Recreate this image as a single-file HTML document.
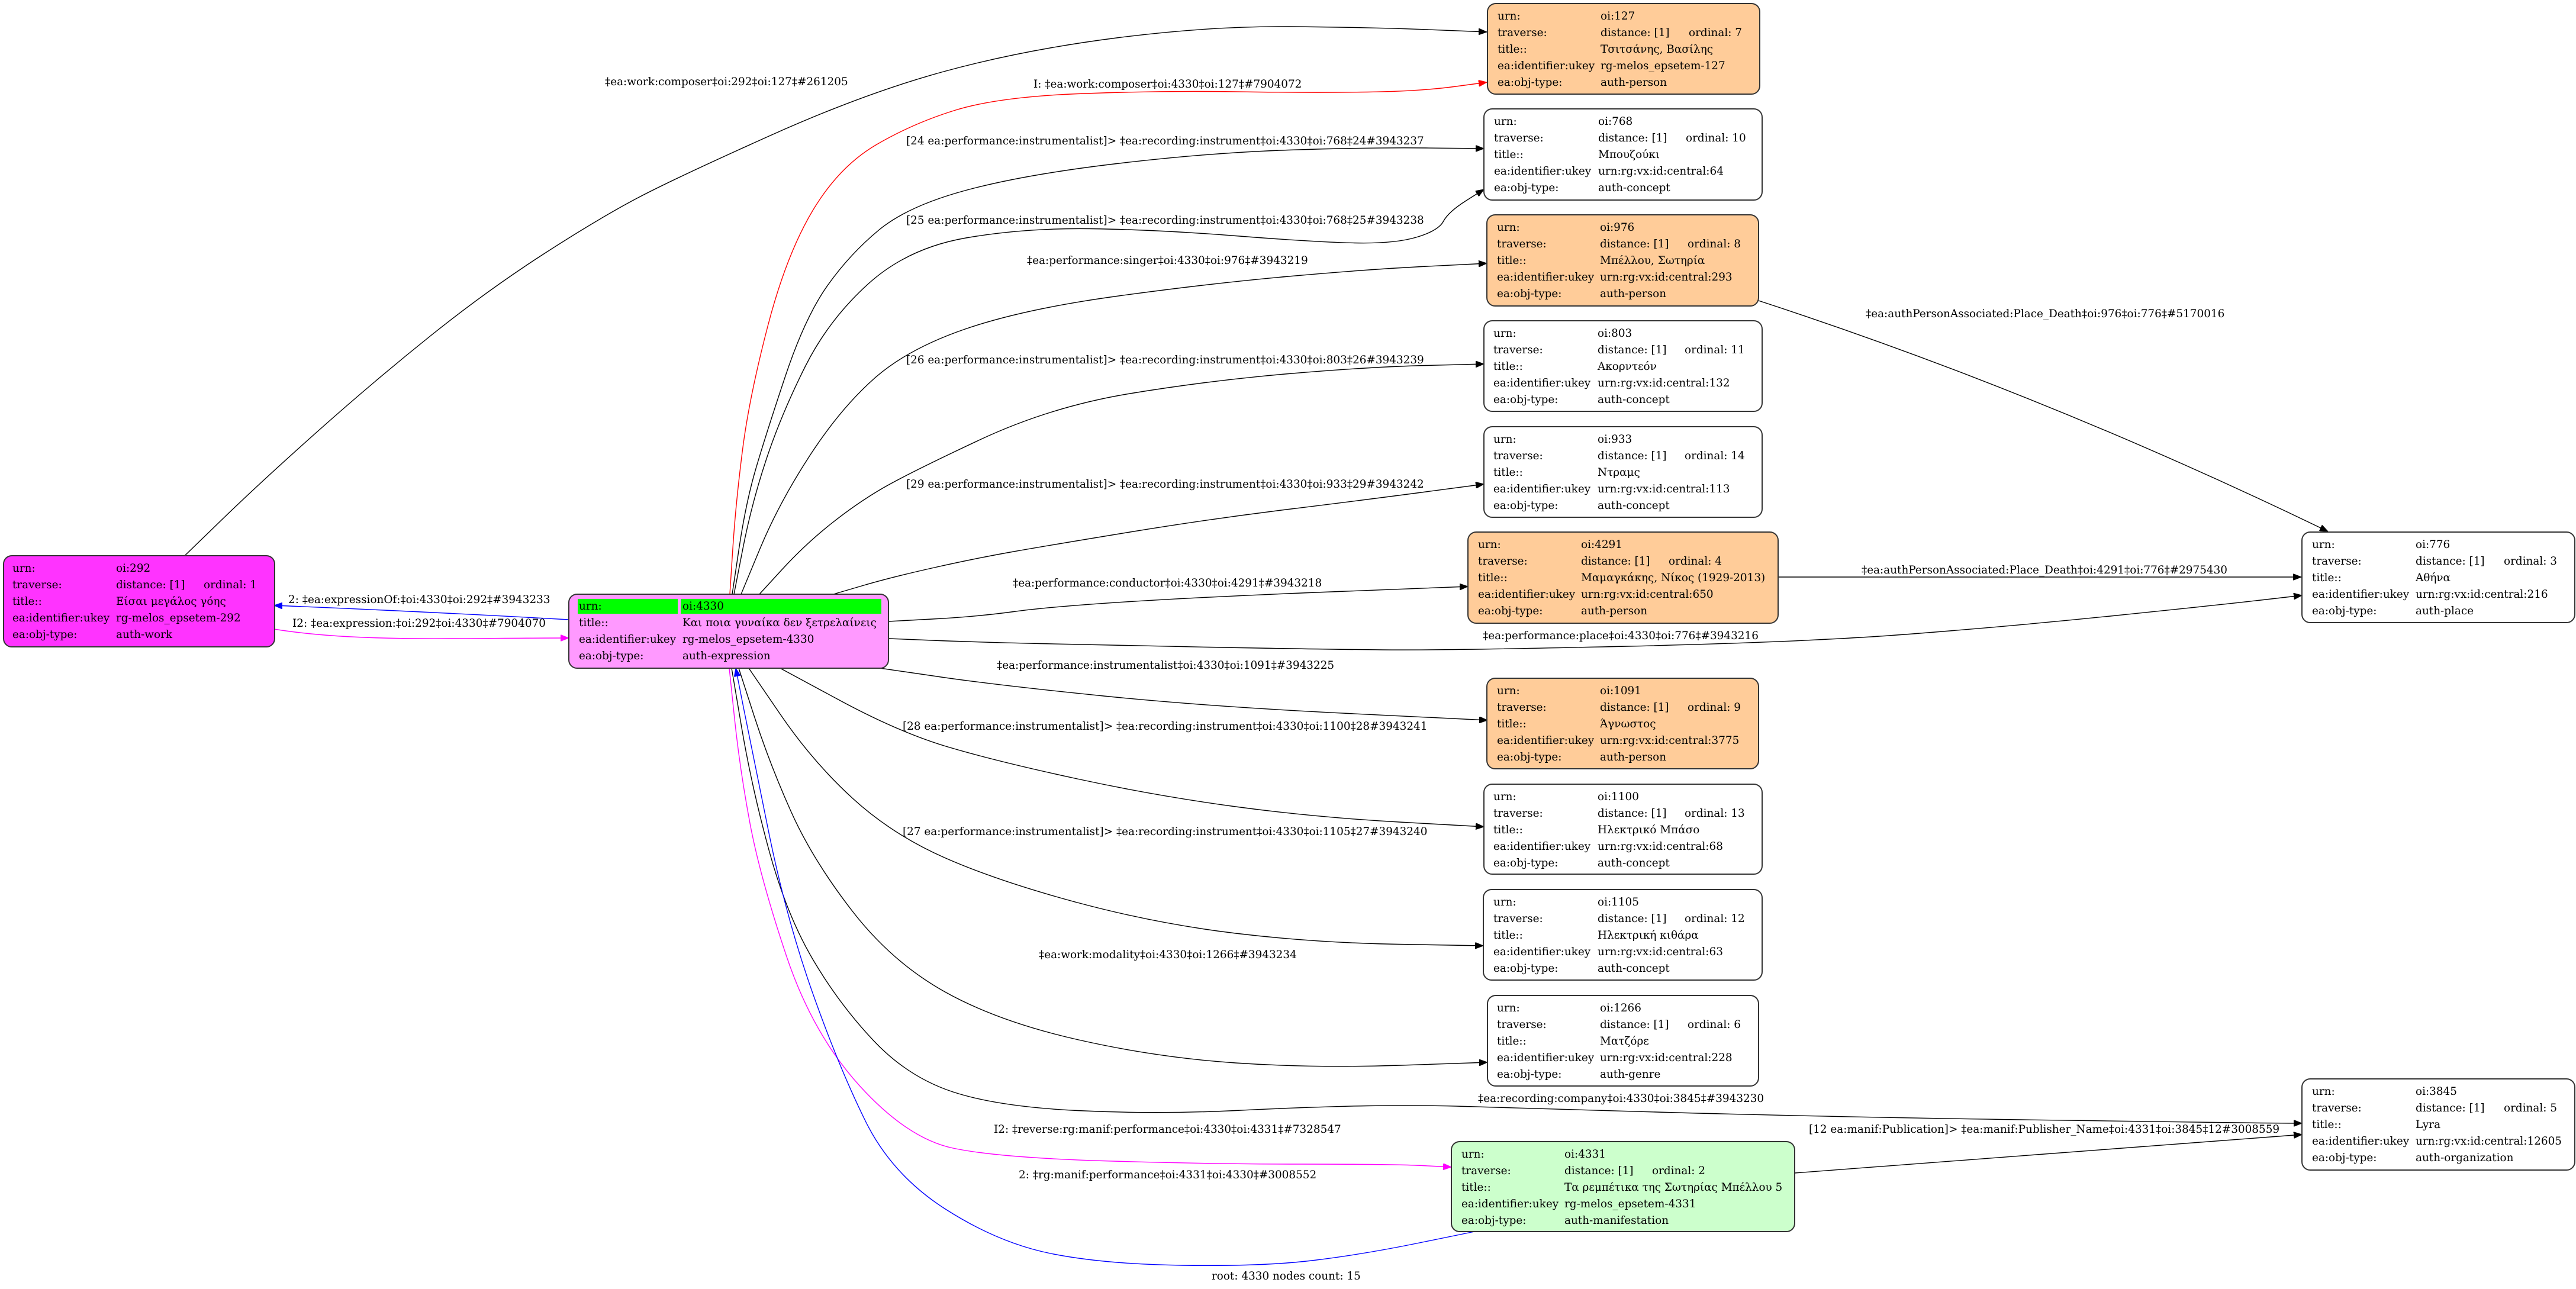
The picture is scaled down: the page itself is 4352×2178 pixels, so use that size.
<!DOCTYPE html>
<html>
<head>
<meta charset="utf-8">
<style>
html,body{margin:0;padding:0;background:#fff;}
svg{display:block;}
text{font-family:"DejaVu Serif","Liberation Serif","Noto Serif CJK SC",serif;font-size:18.4px;fill:#000;}
.e{fill:none;stroke:#000;stroke-width:1.4;}
.n{stroke:#333;stroke-width:2;}
</style>
</head>
<body>
<svg xmlns="http://www.w3.org/2000/svg" width="4352" height="2178" viewBox="0 0 4352 2178">
<defs>
<marker id="aK" viewBox="0 0 14 11" refX="14" refY="5.5" markerWidth="14" markerHeight="11" markerUnits="userSpaceOnUse" orient="auto"><path d="M0,0 L14,5.5 L0,11 z" fill="#000" stroke="#000" stroke-width="1"/></marker>
<marker id="aR" viewBox="0 0 14 11" refX="14" refY="5.5" markerWidth="14" markerHeight="11" markerUnits="userSpaceOnUse" orient="auto"><path d="M0,0 L14,5.5 L0,11 z" fill="#f00" stroke="#f00" stroke-width="1"/></marker>
<marker id="aB" viewBox="0 0 14 11" refX="14" refY="5.5" markerWidth="14" markerHeight="11" markerUnits="userSpaceOnUse" orient="auto"><path d="M0,0 L14,5.5 L0,11 z" fill="#00f" stroke="#00f" stroke-width="1"/></marker>
<marker id="aM" viewBox="0 0 14 11" refX="14" refY="5.5" markerWidth="14" markerHeight="11" markerUnits="userSpaceOnUse" orient="auto"><path d="M0,0 L14,5.5 L0,11 z" fill="#f0f" stroke="#f0f" stroke-width="1"/></marker>
</defs>
<rect x="0" y="0" width="4352" height="2178" fill="#fff"/>

<!-- EDGES -->
<path class="e" marker-end="url(#aK)" d="M312,939 L376.5,876.5 Q441,814 537,728.5 Q633,643 728.5,566.5 Q824,490 919.5,428.5 Q1015,367 1079,333.5 Q1143,300 1302.5,228.5 Q1462,157 1596,120.5 Q1730,84 1886.5,64 Q2043,44 2177,45 Q2311,46 2411.5,50 L2512,54"/>
<path class="e" style="stroke:#f00" marker-end="url(#aR)" d="M1233,1004 L1238,927 Q1243,850 1254.5,760 Q1266,670 1297.5,549.5 Q1329,429 1373.5,355 Q1418,281 1480.5,244.5 Q1543,208 1614.5,186 Q1686,164 1820,158.5 Q1954,153 2087.5,155 Q2221,157 2310.5,155.5 Q2400,154 2456,146.5 L2512,139"/>
<path class="e" marker-end="url(#aK)" d="M1237,1004 L1248.5,927 Q1260,850 1276.5,793.5 Q1293,737 1326.5,636.5 Q1360,536 1398,482.5 Q1436,429 1485,388.5 Q1534,348 1632,321.5 Q1730,295 1886.5,276.5 Q2043,258 2177,253.5 Q2311,249 2409,250 L2507,251"/>
<path class="e" marker-end="url(#aK)" d="M1240,1004 L1255,927 Q1270,850 1295,775 Q1320,700 1360,620 Q1400,540 1467,479.5 Q1534,419 1632,402 Q1730,385 1842,386.5 Q1954,388 2087.5,398.5 Q2221,409 2288,410.5 Q2355,412 2392.5,401 Q2430,390 2438.5,374 Q2447,358 2477,339 L2507,320"/>
<path class="e" marker-end="url(#aK)" d="M1252,1004 L1284,927 Q1316,850 1368,770 Q1420,690 1477,639.5 Q1534,589 1632,555.5 Q1730,522 1886.5,500.5 Q2043,479 2177,467 Q2311,455 2411.5,450 L2512,445"/>
<path class="e" marker-end="url(#aK)" d="M1283,1004 L1321.5,962 Q1360,920 1404,885 Q1448,850 1491,825 Q1534,800 1654.5,743.5 Q1775,687 1909,665 Q2043,643 2177,631.5 Q2311,620 2409,617.5 L2507,615"/>
<path class="e" marker-end="url(#aK)" d="M1408,1004 L1457.5,989.5 Q1507,975 1578.5,959 Q1650,943 1712.5,932 Q1775,921 1909,899 Q2043,877 2177,860.5 Q2311,844 2409,831 L2507,818"/>
<path class="e" marker-end="url(#aK)" d="M1501,1050 L1575,1046 Q1650,1042 1712.5,1033.5 Q1775,1025 1909,1016.5 Q2043,1008 2261.5,999.5 L2480,991"/>
<path class="e" marker-end="url(#aK)" d="M1501,1079 L1575.5,1082 Q1650,1085 1757,1087.5 Q1864,1090 2042.5,1093.5 Q2221,1097 2335.5,1098 Q2450,1099 2750,1092 Q3050,1085 3225,1071.5 Q3400,1058 3575,1040 Q3750,1022 3819.5,1014 L3889,1006"/>
<path class="e" marker-end="url(#aK)" d="M1487,1129 L1586.5,1143.5 Q1686,1158 1864.5,1176 Q2043,1194 2278,1205.5 L2513,1217"/>
<path class="e" marker-end="url(#aK)" d="M1318,1129 L1419,1183.5 Q1520,1238 1603,1262.5 Q1686,1287 1820,1316 Q1954,1345 2087.5,1363 Q2221,1381 2364,1389 L2507,1397"/>
<path class="e" marker-end="url(#aK)" d="M1265,1129 L1319,1208 Q1373,1287 1440,1348.5 Q1507,1410 1596.5,1449.5 Q1686,1489 1820,1525 Q1954,1561 2087.5,1577 Q2221,1593 2363.5,1595.5 L2506,1598"/>
<path class="e" marker-end="url(#aK)" d="M1248,1129 L1274,1209.5 Q1300,1290 1336.5,1371.5 Q1373,1453 1440,1539.5 Q1507,1626 1596.5,1676 Q1686,1726 1820,1756.5 Q1954,1787 2087.5,1796 Q2221,1805 2367,1800 L2513,1795"/>
<path class="e" marker-end="url(#aK)" d="M1236,1129 L1253,1229.5 Q1270,1330 1299.5,1438 Q1329,1546 1373.5,1621.5 Q1418,1697 1476,1758.5 Q1534,1820 1610,1845 Q1686,1870 1820,1876.5 Q1954,1883 2087.5,1876.5 Q2221,1870 2310.5,1868.5 Q2400,1867 2475,1869.5 Q2550,1872 2815,1879.5 Q3080,1887 3415,1892 Q3750,1897 3819.5,1897.5 L3889,1898"/>
<path class="e" style="stroke:#f0f" marker-end="url(#aM)" d="M1232,1129 L1241,1214.5 Q1250,1300 1267,1391 Q1284,1482 1328.5,1615 Q1373,1748 1453.5,1836 Q1534,1924 1610,1940 Q1686,1956 1864.5,1961.5 Q2043,1967 2199,1967 Q2355,1967 2403.5,1969.5 L2452,1972"/>
<path class="e" style="stroke:#00f" marker-end="url(#aB)" d="M2491,2081 L2395.5,2100.5 Q2300,2120 2216,2130 Q2132,2140 1998,2138 Q1864,2136 1775,2118 Q1686,2100 1596.5,2042.5 Q1507,1985 1462.5,1895 Q1418,1805 1373.5,1679.5 Q1329,1554 1299.5,1410 Q1270,1266 1256.5,1197.5 L1243,1129"/>
<path class="e" style="stroke:#00f" marker-end="url(#aB)" d="M961,1047 Q712,1033 463,1023"/>
<path class="e" style="stroke:#f0f" marker-end="url(#aM)" d="M463,1063 C600,1085 750,1078 961,1078"/>
<path class="e" marker-end="url(#aK)" d="M2971,508 Q3452,665 3933,898"/>
<path class="e" marker-end="url(#aK)" d="M3004,975 L3888,975"/>
<path class="e" marker-end="url(#aK)" d="M3032,1982 L3889,1917"/>

<!-- EDGE LABELS -->
<text x="1022" y="144">‡ea:work:composer‡oi:292‡oi:127‡#261205</text>
<text x="1746" y="148">I: ‡ea:work:composer‡oi:4330‡oi:127‡#7904072</text>
<text x="1531" y="244">[24 ea:performance:instrumentalist]&gt; ‡ea:recording:instrument‡oi:4330‡oi:768‡24#3943237</text>
<text x="1531" y="378">[25 ea:performance:instrumentalist]&gt; ‡ea:recording:instrument‡oi:4330‡oi:768‡25#3943238</text>
<text x="1735" y="446">‡ea:performance:singer‡oi:4330‡oi:976‡#3943219</text>
<text x="1531" y="614">[26 ea:performance:instrumentalist]&gt; ‡ea:recording:instrument‡oi:4330‡oi:803‡26#3943239</text>
<text x="1531" y="824">[29 ea:performance:instrumentalist]&gt; ‡ea:recording:instrument‡oi:4330‡oi:933‡29#3943242</text>
<text x="1711" y="991">‡ea:performance:conductor‡oi:4330‡oi:4291‡#3943218</text>
<text x="2505" y="1080">‡ea:performance:place‡oi:4330‡oi:776‡#3943216</text>
<text x="1684" y="1130">‡ea:performance:instrumentalist‡oi:4330‡oi:1091‡#3943225</text>
<text x="1525" y="1233">[28 ea:performance:instrumentalist]&gt; ‡ea:recording:instrument‡oi:4330‡oi:1100‡28#3943241</text>
<text x="1525" y="1411">[27 ea:performance:instrumentalist]&gt; ‡ea:recording:instrument‡oi:4330‡oi:1105‡27#3943240</text>
<text x="1755" y="1619">‡ea:work:modality‡oi:4330‡oi:1266‡#3943234</text>
<text x="2497" y="1862">‡ea:recording:company‡oi:4330‡oi:3845‡#3943230</text>
<text x="1679" y="1914">I2: ‡reverse:rg:manif:performance‡oi:4330‡oi:4331‡#7328547</text>
<text x="1721" y="1991">2: ‡rg:manif:performance‡oi:4331‡oi:4330‡#3008552</text>
<text x="2047" y="2162">root: 4330 nodes count: 15</text>
<text x="3152" y="536">‡ea:authPersonAssociated:Place_Death‡oi:976‡oi:776‡#5170016</text>
<text x="3145" y="969">‡ea:authPersonAssociated:Place_Death‡oi:4291‡oi:776‡#2975430</text>
<text x="3056" y="1914">[12 ea:manif:Publication]&gt; ‡ea:manif:Publisher_Name‡oi:4331‡oi:3845‡12#3008559</text>
<text x="487" y="1019">2: ‡ea:expressionOf:‡oi:4330‡oi:292‡#3943233</text>
<text x="494" y="1059">I2: ‡ea:expression:‡oi:292‡oi:4330‡#7904070</text>

<!-- NODES -->
<!-- 292 -->
<rect class="n" x="6" y="939" width="458" height="154" rx="14" fill="#ff33ff"/>
<text x="21" y="966">urn:</text><text x="196" y="966">oi:292</text>
<text x="21" y="994">traverse:</text><text x="196" y="994">distance: [1]</text><text x="344" y="994">ordinal: 1</text>
<text x="21" y="1022">title::</text><text x="196" y="1022">Είσαι μεγάλος γόης</text>
<text x="21" y="1050">ea:identifier:ukey</text><text x="196" y="1050">rg-melos_epsetem-292</text>
<text x="21" y="1078">ea:obj-type:</text><text x="196" y="1078">auth-work</text>

<!-- 4330 -->
<rect class="n" x="961" y="1004" width="540" height="125" rx="14" fill="#ff99ff"/>
<rect x="976" y="1012" width="169" height="25" fill="#00ff00"/>
<rect x="1150" y="1012" width="339" height="25" fill="#00ff00"/>
<text x="978" y="1030">urn:</text><text x="1153" y="1030">oi:4330</text>
<text x="978" y="1058">title::</text><text x="1153" y="1058">Και ποια γυναίκα δεν ξετρελαίνεις</text>
<text x="978" y="1086">ea:identifier:ukey</text><text x="1153" y="1086">rg-melos_epsetem-4330</text>
<text x="978" y="1114">ea:obj-type:</text><text x="1153" y="1114">auth-expression</text>

<!-- 127 -->
<rect class="n" x="2513" y="6" width="460" height="153" rx="14" fill="#ffcc99"/>
<text x="2530" y="33">urn:</text><text x="2704" y="33">oi:127</text>
<text x="2530" y="61">traverse:</text><text x="2704" y="61">distance: [1]</text><text x="2853" y="61">ordinal: 7</text>
<text x="2530" y="89">title::</text><text x="2704" y="89">Τσιτσάνης, Βασίλης</text>
<text x="2530" y="117">ea:identifier:ukey</text><text x="2704" y="117">rg-melos_epsetem-127</text>
<text x="2530" y="145">ea:obj-type:</text><text x="2704" y="145">auth-person</text>

<!-- 768 -->
<rect class="n" x="2507" y="184" width="470" height="154" rx="14" fill="#fff"/>
<text x="2524" y="211">urn:</text><text x="2700" y="211">oi:768</text>
<text x="2524" y="239">traverse:</text><text x="2700" y="239">distance: [1]</text><text x="2848" y="239">ordinal: 10</text>
<text x="2524" y="267">title::</text><text x="2700" y="267">Μπουζούκι</text>
<text x="2524" y="295">ea:identifier:ukey</text><text x="2700" y="295">urn:rg:vx:id:central:64</text>
<text x="2524" y="323">ea:obj-type:</text><text x="2700" y="323">auth-concept</text>

<!-- 976 -->
<rect class="n" x="2512" y="363" width="459" height="154" rx="14" fill="#ffcc99"/>
<text x="2529" y="390">urn:</text><text x="2703" y="390">oi:976</text>
<text x="2529" y="418">traverse:</text><text x="2703" y="418">distance: [1]</text><text x="2851" y="418">ordinal: 8</text>
<text x="2529" y="446">title::</text><text x="2703" y="446">Μπέλλου, Σωτηρία</text>
<text x="2529" y="474">ea:identifier:ukey</text><text x="2703" y="474">urn:rg:vx:id:central:293</text>
<text x="2529" y="502">ea:obj-type:</text><text x="2703" y="502">auth-person</text>

<!-- 803 -->
<rect class="n" x="2507" y="542" width="470" height="153" rx="14" fill="#fff"/>
<text x="2523" y="569">urn:</text><text x="2699" y="569">oi:803</text>
<text x="2523" y="597">traverse:</text><text x="2699" y="597">distance: [1]</text><text x="2846" y="597">ordinal: 11</text>
<text x="2523" y="625">title::</text><text x="2699" y="625">Ακορντεόν</text>
<text x="2523" y="653">ea:identifier:ukey</text><text x="2699" y="653">urn:rg:vx:id:central:132</text>
<text x="2523" y="681">ea:obj-type:</text><text x="2699" y="681">auth-concept</text>

<!-- 933 -->
<rect class="n" x="2507" y="721" width="470" height="153" rx="14" fill="#fff"/>
<text x="2523" y="748">urn:</text><text x="2699" y="748">oi:933</text>
<text x="2523" y="776">traverse:</text><text x="2699" y="776">distance: [1]</text><text x="2846" y="776">ordinal: 14</text>
<text x="2523" y="804">title::</text><text x="2699" y="804">Ντραμς</text>
<text x="2523" y="832">ea:identifier:ukey</text><text x="2699" y="832">urn:rg:vx:id:central:113</text>
<text x="2523" y="860">ea:obj-type:</text><text x="2699" y="860">auth-concept</text>

<!-- 4291 -->
<rect class="n" x="2480" y="899" width="524" height="154" rx="14" fill="#ffcc99"/>
<text x="2497" y="926">urn:</text><text x="2671" y="926">oi:4291</text>
<text x="2497" y="954">traverse:</text><text x="2671" y="954">distance: [1]</text><text x="2819" y="954">ordinal: 4</text>
<text x="2497" y="982">title::</text><text x="2671" y="982">Μαμαγκάκης, Νίκος (1929-2013)</text>
<text x="2497" y="1010">ea:identifier:ukey</text><text x="2671" y="1010">urn:rg:vx:id:central:650</text>
<text x="2497" y="1038">ea:obj-type:</text><text x="2671" y="1038">auth-person</text>

<!-- 1091 -->
<rect class="n" x="2512" y="1146" width="459" height="153" rx="14" fill="#ffcc99"/>
<text x="2529" y="1173">urn:</text><text x="2703" y="1173">oi:1091</text>
<text x="2529" y="1201">traverse:</text><text x="2703" y="1201">distance: [1]</text><text x="2851" y="1201">ordinal: 9</text>
<text x="2529" y="1229">title::</text><text x="2703" y="1229">Άγνωστος</text>
<text x="2529" y="1257">ea:identifier:ukey</text><text x="2703" y="1257">urn:rg:vx:id:central:3775</text>
<text x="2529" y="1285">ea:obj-type:</text><text x="2703" y="1285">auth-person</text>

<!-- 1100 -->
<rect class="n" x="2507" y="1325" width="470" height="152" rx="14" fill="#fff"/>
<text x="2523" y="1352">urn:</text><text x="2699" y="1352">oi:1100</text>
<text x="2523" y="1380">traverse:</text><text x="2699" y="1380">distance: [1]</text><text x="2846" y="1380">ordinal: 13</text>
<text x="2523" y="1408">title::</text><text x="2699" y="1408">Ηλεκτρικό Μπάσο</text>
<text x="2523" y="1436">ea:identifier:ukey</text><text x="2699" y="1436">urn:rg:vx:id:central:68</text>
<text x="2523" y="1464">ea:obj-type:</text><text x="2699" y="1464">auth-concept</text>

<!-- 1105 -->
<rect class="n" x="2506" y="1503" width="471" height="153" rx="14" fill="#fff"/>
<text x="2523" y="1530">urn:</text><text x="2699" y="1530">oi:1105</text>
<text x="2523" y="1558">traverse:</text><text x="2699" y="1558">distance: [1]</text><text x="2846" y="1558">ordinal: 12</text>
<text x="2523" y="1586">title::</text><text x="2699" y="1586">Ηλεκτρική κιθάρα</text>
<text x="2523" y="1614">ea:identifier:ukey</text><text x="2699" y="1614">urn:rg:vx:id:central:63</text>
<text x="2523" y="1642">ea:obj-type:</text><text x="2699" y="1642">auth-concept</text>

<!-- 1266 -->
<rect class="n" x="2513" y="1682" width="458" height="153" rx="14" fill="#fff"/>
<text x="2529" y="1709">urn:</text><text x="2703" y="1709">oi:1266</text>
<text x="2529" y="1737">traverse:</text><text x="2703" y="1737">distance: [1]</text><text x="2851" y="1737">ordinal: 6</text>
<text x="2529" y="1765">title::</text><text x="2703" y="1765">Ματζόρε</text>
<text x="2529" y="1793">ea:identifier:ukey</text><text x="2703" y="1793">urn:rg:vx:id:central:228</text>
<text x="2529" y="1821">ea:obj-type:</text><text x="2703" y="1821">auth-genre</text>

<!-- 4331 -->
<rect class="n" x="2452" y="1929" width="580" height="152" rx="14" fill="#ccffcc"/>
<text x="2469" y="1956">urn:</text><text x="2643" y="1956">oi:4331</text>
<text x="2469" y="1984">traverse:</text><text x="2643" y="1984">distance: [1]</text><text x="2791" y="1984">ordinal: 2</text>
<text x="2469" y="2012">title::</text><text x="2643" y="2012">Τα ρεμπέτικα της Σωτηρίας Μπέλλου 5</text>
<text x="2469" y="2040">ea:identifier:ukey</text><text x="2643" y="2040">rg-melos_epsetem-4331</text>
<text x="2469" y="2068">ea:obj-type:</text><text x="2643" y="2068">auth-manifestation</text>

<!-- 776 -->
<rect class="n" x="3889" y="899" width="461" height="153" rx="14" fill="#fff"/>
<text x="3906" y="926">urn:</text><text x="4081" y="926">oi:776</text>
<text x="3906" y="954">traverse:</text><text x="4081" y="954">distance: [1]</text><text x="4230" y="954">ordinal: 3</text>
<text x="3906" y="982">title::</text><text x="4081" y="982">Αθήνα</text>
<text x="3906" y="1010">ea:identifier:ukey</text><text x="4081" y="1010">urn:rg:vx:id:central:216</text>
<text x="3906" y="1038">ea:obj-type:</text><text x="4081" y="1038">auth-place</text>

<!-- 3845 -->
<rect class="n" x="3889" y="1823" width="461" height="154" rx="14" fill="#fff"/>
<text x="3906" y="1850">urn:</text><text x="4081" y="1850">oi:3845</text>
<text x="3906" y="1878">traverse:</text><text x="4081" y="1878">distance: [1]</text><text x="4230" y="1878">ordinal: 5</text>
<text x="3906" y="1906">title::</text><text x="4081" y="1906">Lyra</text>
<text x="3906" y="1934">ea:identifier:ukey</text><text x="4081" y="1934">urn:rg:vx:id:central:12605</text>
<text x="3906" y="1962">ea:obj-type:</text><text x="4081" y="1962">auth-organization</text>
</svg>
</body>
</html>
